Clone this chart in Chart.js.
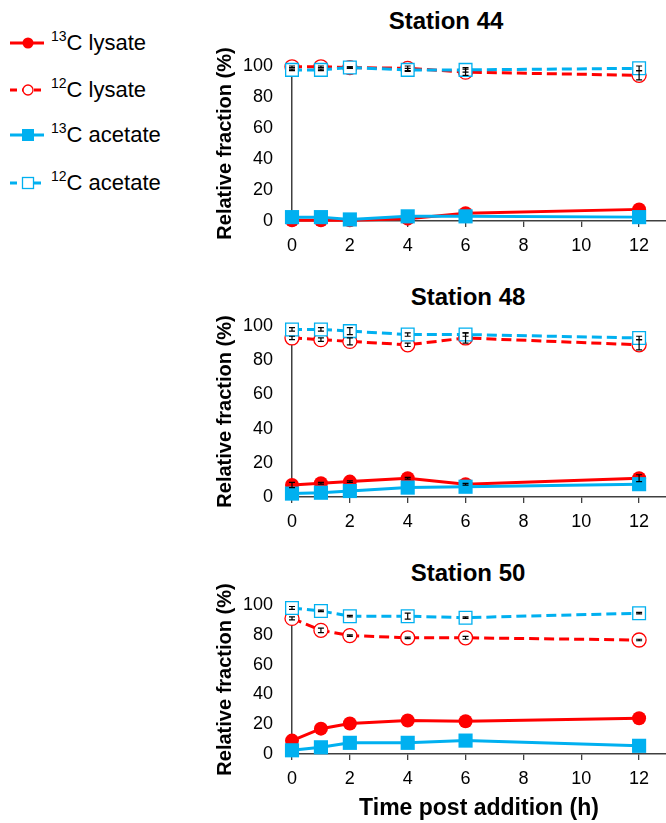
<!DOCTYPE html>
<html>
<head>
<meta charset="utf-8">
<script src="https://cdn.jsdelivr.net/npm/chart.js@4.4.1/dist/chart.umd.min.js"></script>
<style>
  body { margin: 0; background: #fff; overflow: hidden; font-family: 'Liberation Sans', Arial, sans-serif; }
  .box { position: absolute; }
  .title { position: absolute; font-weight: bold; font-size: 24px; transform: translate(-50%, -50%); white-space: nowrap; }
  .leg { position: absolute; left: 8px; height: 30px; display: flex; align-items: center; font-size: 22px; white-space: nowrap; }
  .leg svg { margin-right: 5px; }
  .leg sup { font-size: 14px; vertical-align: 9px; line-height: 0; }
</style>
</head>
<body>

<!-- legend -->
<div class="leg" style="top:28px">
  <svg width="38" height="16"><line x1="2" y1="8" x2="36" y2="8" stroke="#ff0000" stroke-width="3"/><circle cx="20" cy="8" r="5.5" fill="#ff0000"/></svg>
  <span><sup>13</sup>C lysate</span>
</div>
<div class="leg" style="top:75px">
  <svg width="38" height="16"><line x1="2" y1="8" x2="36" y2="8" stroke="#ff0000" stroke-width="3" stroke-dasharray="7,5"/><circle cx="20" cy="8" r="5" fill="#fff" stroke="#ff0000" stroke-width="1.3"/></svg>
  <span><sup>12</sup>C lysate</span>
</div>
<div class="leg" style="top:120px">
  <svg width="38" height="16"><line x1="2" y1="8" x2="36" y2="8" stroke="#00b0f0" stroke-width="3"/><rect x="14" y="2" width="12" height="12" fill="#00b0f0"/></svg>
  <span><sup>13</sup>C acetate</span>
</div>
<div class="leg" style="top:168px">
  <svg width="38" height="16"><line x1="2" y1="8" x2="36" y2="8" stroke="#00b0f0" stroke-width="3" stroke-dasharray="7,5"/><rect x="14.5" y="2.5" width="11" height="11" fill="#fff" stroke="#00b0f0" stroke-width="1.3"/></svg>
  <span><sup>12</sup>C acetate</span>
</div>

<div class="title" style="left:446px; top:21px">Station 44</div>
<div class="title" style="left:468px; top:297px">Station 48</div>
<div class="title" style="left:468px; top:573px">Station 50</div>

<div class="box" style="left:200px; top:34px"><canvas id="st44" width="466" height="223"></canvas></div>
<div class="box" style="left:200px; top:294px"><canvas id="st48" width="466" height="239"></canvas></div>
<div class="box" style="left:200px; top:573px"><canvas id="st50" width="466" height="249"></canvas></div>

<script>
const hours = [0, 1, 2, 4, 6, 12];
const xTicks = [0, 2, 4, 6, 8, 10, 12];
const yTicks = [0, 20, 40, 60, 80, 100];
const seriesNames = ['13C lysate', '12C lysate', '13C acetate', '12C acetate'];

// Station 44
const st44Lys13 = [0.5, 0.5, 0.5, 1.5, 5, 7.5];
const st44Lys12 = [99.5, 99.5, 99, 98.5, 96, 94];
const st44Ace13 = [2.5, 2.5, 1, 3, 3, 2.5];
const st44Ace12 = [97.5, 97.5, 99, 97.5, 97.5, 98.5];
const st44Lys12Err = [0.5, 0.5, 0.5, 1.5, 2, 3];
const st44Ace12Err = [0.5, 0.5, 0.5, 1, 1.5, 1.5];

// Station 48
const st48Lys13 = [7, 8, 9, 11, 7.5, 11];
const st48Lys12 = [93, 92, 91, 89, 93, 89];
const st48Ace13 = [2, 2.5, 3.5, 5.5, 6, 7.5];
const st48Ace12 = [98, 98, 97, 95, 95, 93];
const st48Lys13Err = [1.5, 0.5, 0.5, 0.5, 0.5, 2];
const st48Lys12Err = [1, 1, 2, 1, 3, 3];
const st48Ace12Err = [1, 1, 2, 1, 1, 1];

// Station 50
const st50Lys13 = [9, 17, 20.5, 22.5, 22, 24];
const st50Lys12 = [91, 83, 79.5, 78, 78, 76.5];
const st50Ace13 = [2.5, 4.5, 7.5, 7.5, 9, 5.5];
const st50Ace12 = [98, 96, 92.5, 92.5, 91.5, 94.5];
const st50Lys12Err = [1, 1.5, 0.5, 0.5, 1, 0.5];
const st50Ace12Err = [1, 0.5, 0.5, 2, 0.5, 0.5];

const RED = '#ff0000';
const BLUE = '#00b0f0';
const FONT = "'Liberation Sans', Arial, sans-serif";

// small black error bars drawn from the scales
const errorBars = {
    id: 'errorBars',
    afterDatasetsDraw(chart) {
        const ctx = chart.ctx;
        const x = chart.scales.x, y = chart.scales.y;
        ctx.save();
        ctx.strokeStyle = '#000';
        ctx.lineWidth = 1.2;
        chart.data.datasets.forEach(ds => {
            if (!ds.errors) return;
            ds.data.forEach((p, i) => {
                const e = ds.errors[i];
                if (!e) return;
                const px = x.getPixelForValue(p.x);
                const y1 = y.getPixelForValue(p.y + e);
                const y2 = y.getPixelForValue(p.y - e);
                ctx.beginPath();
                ctx.moveTo(px, y1); ctx.lineTo(px, y2);
                ctx.moveTo(px - 3, y1); ctx.lineTo(px + 3, y1);
                ctx.moveTo(px - 3, y2); ctx.lineTo(px + 3, y2);
                ctx.stroke();
            });
        });
        ctx.restore();
    }
};

function pts(vals) {
    return hours.map((h, i) => ({ x: h, y: vals[i] }));
}

function makeChart(id, lys13, lys12, ace13, ace12, errs, showXTitle) {
    const ctx = document.getElementById(id).getContext('2d');
    return new Chart(ctx, {
        type: 'line',
        data: {
            datasets: [{
                label: seriesNames[2],
                data: pts(ace13),
                borderColor: BLUE,
                backgroundColor: BLUE,
                borderWidth: 3,
                pointStyle: 'rect',
                pointRadius: 10,
                pointBorderWidth: 0,
                errors: errs.ace13
            }, {
                label: seriesNames[3],
                data: pts(ace12),
                borderColor: BLUE,
                backgroundColor: '#fff',
                borderWidth: 3,
                borderDash: [10, 5],
                pointStyle: 'rect',
                pointRadius: 9,
                pointBorderWidth: 1.3,
                errors: errs.ace12
            }, {
                label: seriesNames[0],
                data: pts(lys13),
                borderColor: RED,
                backgroundColor: RED,
                borderWidth: 3,
                pointStyle: 'circle',
                pointRadius: 7,
                pointBorderWidth: 0,
                errors: errs.lys13
            }, {
                label: seriesNames[1],
                data: pts(lys12),
                borderColor: RED,
                backgroundColor: '#fff',
                borderWidth: 3,
                borderDash: [10, 5],
                pointStyle: 'circle',
                pointRadius: 7,
                pointBorderWidth: 1.3,
                errors: errs.lys12
            }]
        },
        options: {
            responsive: false,
            animation: false,
            clip: false,
            layout: { autoPadding: false, padding: { left: 9, right: 0, top: 32, bottom: 0 } },
            plugins: {
                legend: { display: false },
                tooltip: { enabled: false }
            },
            scales: {
                x: {
                    type: 'linear',
                    min: 0,
                    max: 12.93,
                    afterBuildTicks: s => { s.ticks = xTicks.map(v => ({ value: v })); },
                    afterFit: s => { s.height = showXTitle ? 68 : 36; },
                    grid: { display: true, drawOnChartArea: false, tickLength: 6, color: '#404040', lineWidth: 1.3 },
                    border: { color: '#404040', width: 1.5 },
                    ticks: { font: { family: FONT, size: 18 }, color: '#000', padding: 8, maxRotation: 0 },
                    title: {
                        display: showXTitle,
                        text: 'Time post addition (h)',
                        font: { family: FONT, size: 23, weight: 'bold' },
                        color: '#000',
                        padding: { top: 4, bottom: 0 }
                    }
                },
                y: {
                    min: 0,
                    max: 100,
                    afterBuildTicks: s => { s.ticks = yTicks.map(v => ({ value: v })); },
                    afterFit: s => { s.width = 83; },
                    grid: { display: false, drawTicks: false },
                    border: { color: '#404040', width: 1.5 },
                    ticks: { font: { family: FONT, size: 18 }, color: '#000', padding: 19 },
                    title: {
                        display: true,
                        text: 'Relative fraction (%)',
                        font: { family: FONT, size: 20, weight: 'bold' },
                        color: '#000',
                        padding: { top: 4, bottom: 4 }
                    }
                }
            }
        },
        plugins: [errorBars]
    });
}

makeChart('st44', st44Lys13, st44Lys12, st44Ace13, st44Ace12,
    { lys12: st44Lys12Err, ace12: st44Ace12Err }, false);
makeChart('st48', st48Lys13, st48Lys12, st48Ace13, st48Ace12,
    { lys13: st48Lys13Err, lys12: st48Lys12Err, ace12: st48Ace12Err }, false);
makeChart('st50', st50Lys13, st50Lys12, st50Ace13, st50Ace12,
    { lys12: st50Lys12Err, ace12: st50Ace12Err }, true);
</script>
</body>
</html>
